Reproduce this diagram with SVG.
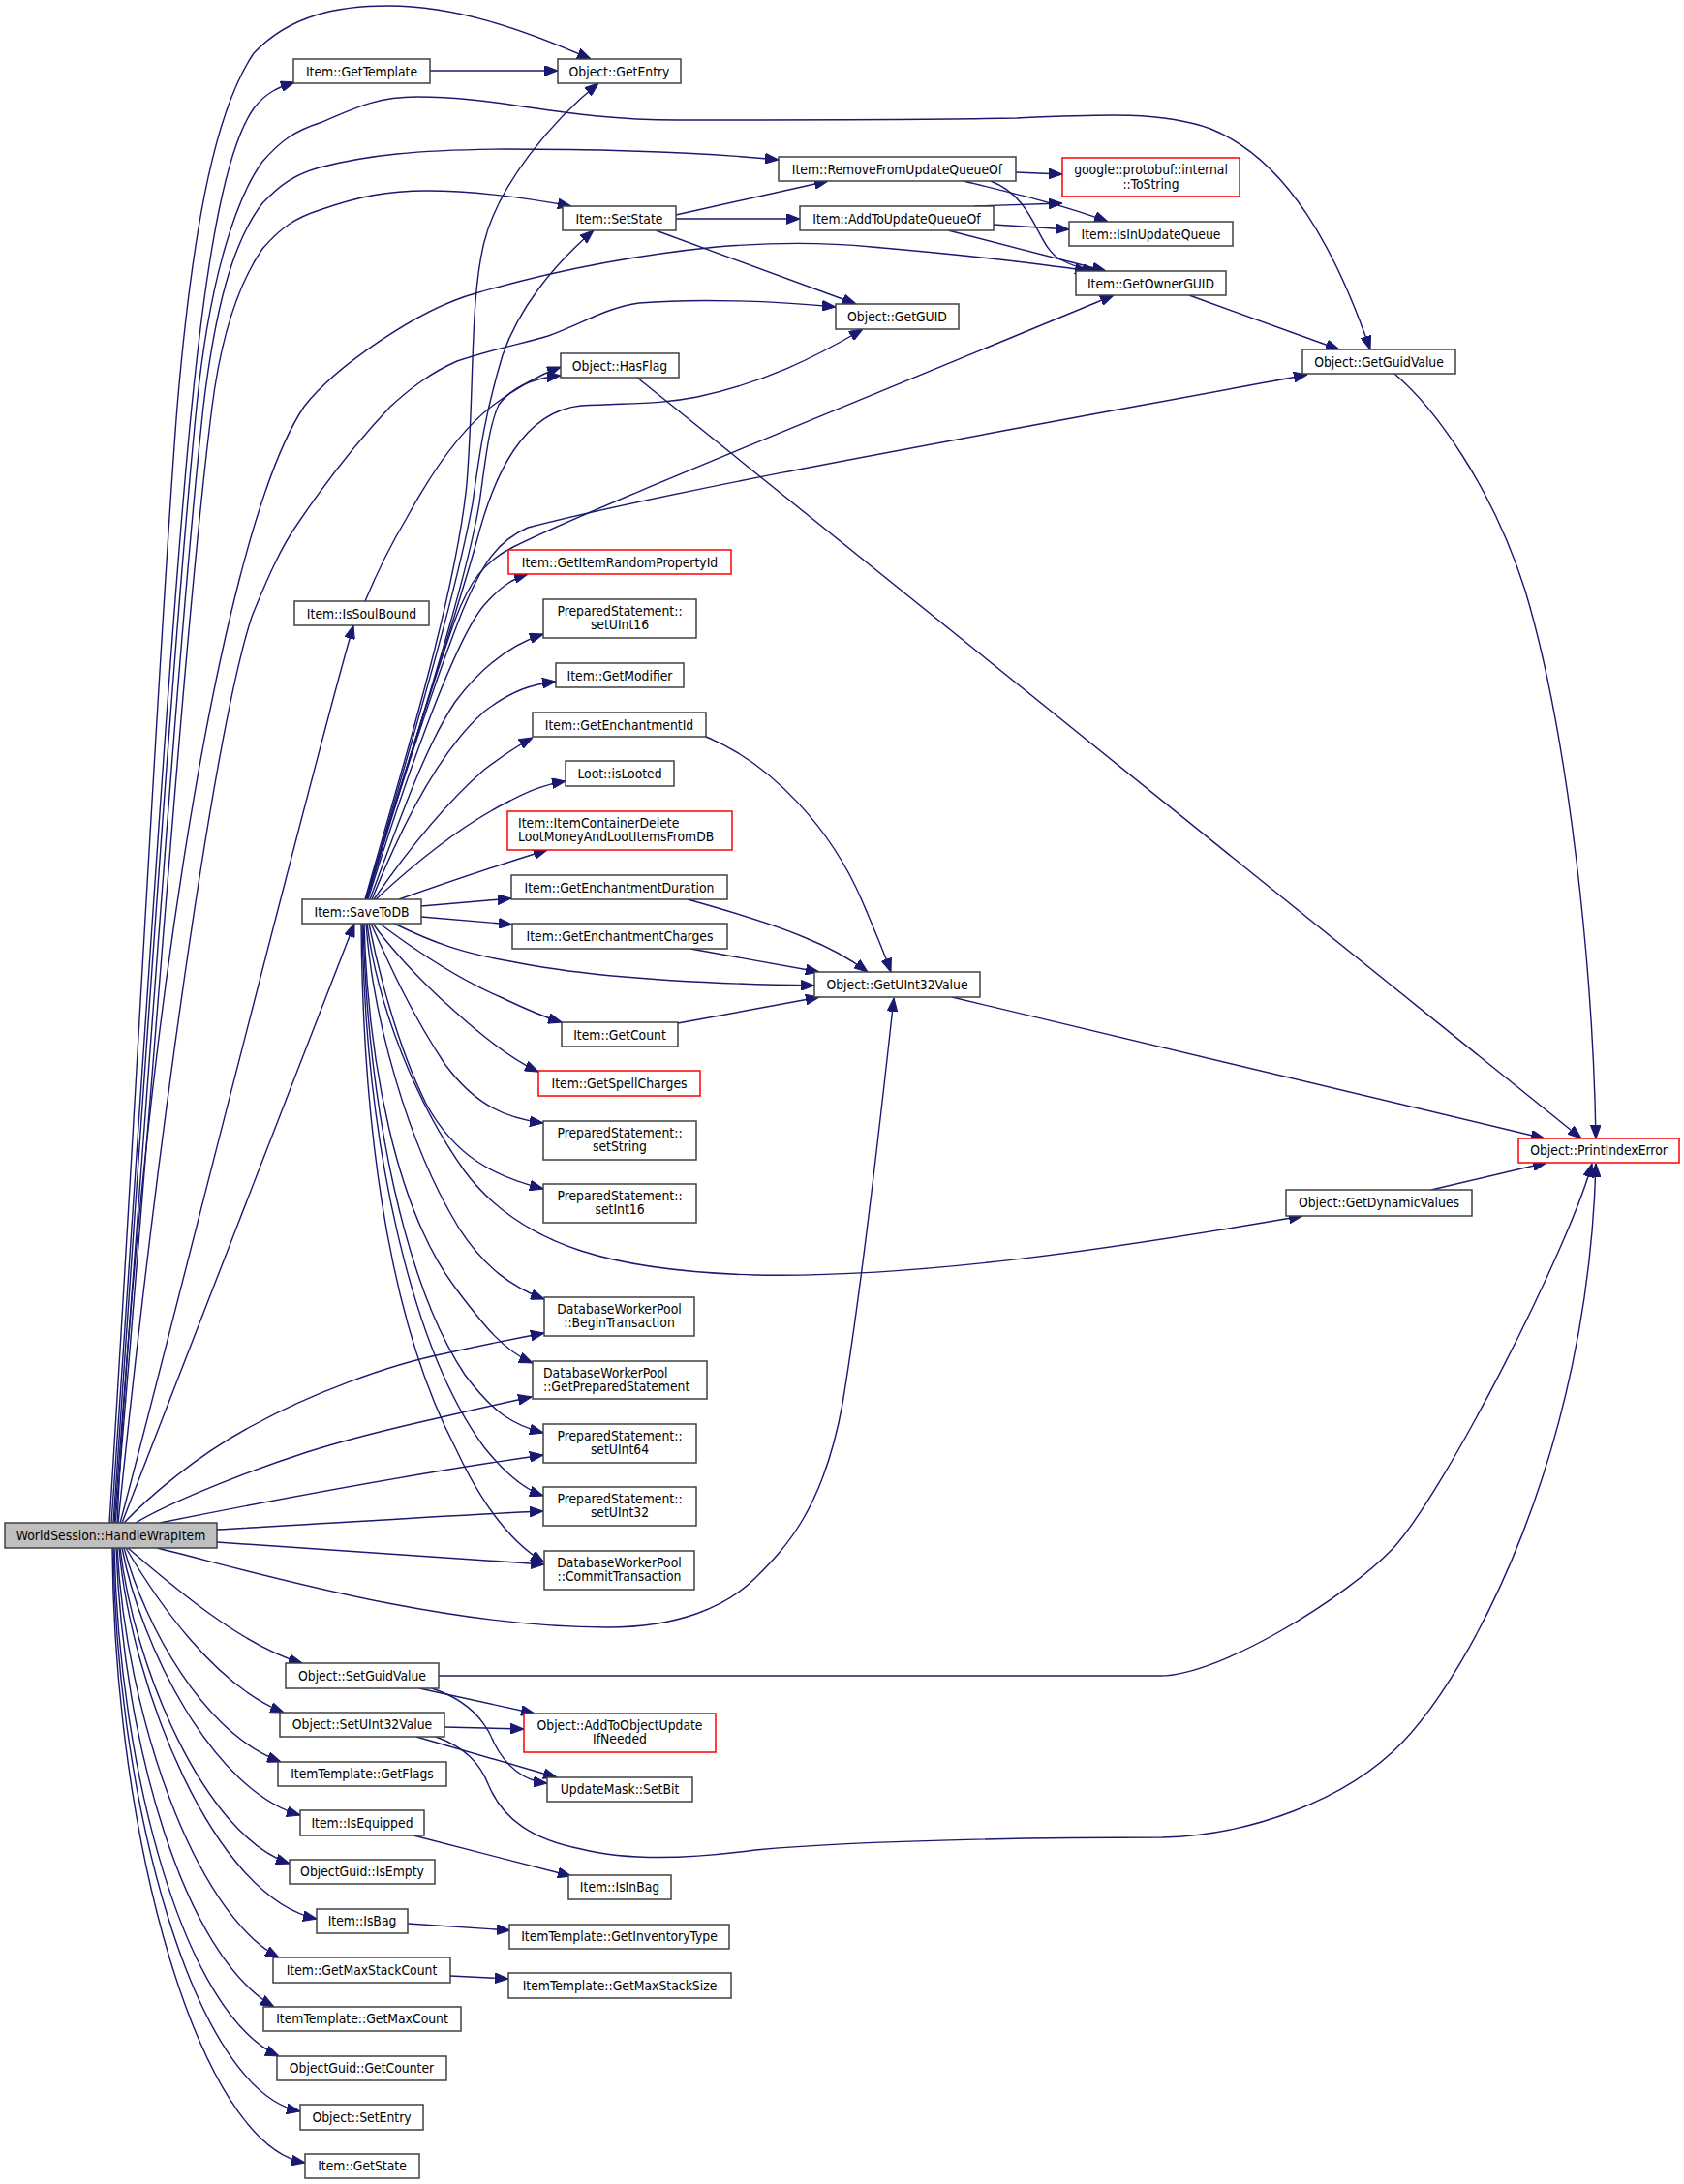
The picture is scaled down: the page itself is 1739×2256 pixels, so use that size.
<svg xmlns="http://www.w3.org/2000/svg" width="1739" height="2256" viewBox="0 0 1739 2256">
<style>
.n rect{fill:#fff;stroke:#404040;stroke-width:1.5}
.n.r rect{stroke:#ff0000}
.n.root rect{fill:#bfbfbf}
text{font-family:"DejaVu Sans Condensed","DejaVu Sans",sans-serif;font-stretch:condensed;font-size:13.8px;fill:#000;text-anchor:middle}
text.l{text-anchor:start}
#edges path{fill:none;stroke:#191970;stroke-width:1.4;marker-end:url(#a)}
</style>
<defs>
<marker id="a" markerUnits="userSpaceOnUse" markerWidth="14" markerHeight="11" viewBox="0 0 13 10" refX="13" refY="5" orient="auto"><path d="M0,0L13,5L0,10Z" fill="#191970" stroke="#191970" stroke-width="1"/></marker>
</defs>
<rect width="1739" height="2256" fill="#fff"/>
<g id="edges">
<path d="M113,1573 C140,1150 165,650 183,420 C200,220 225,110 262,55 C300,15 350,6 401,6 C470,6 540,30 610,61"/>
<path d="M115,1573 C145,1150 175,650 198,420 C215,250 235,150 262,112 C275,95 288,90 304,85"/>
<path d="M117,1573 C150,1100 180,650 203,420 C215,300 240,210 271,167 C290,145 305,135 330,127 C360,115 385,100 430,100 C520,100 580,124 700,124 C850,124 950,124 1050,122 C1140,118 1200,115 1250,133 C1330,165 1380,260 1415,361"/>
<path d="M118,1573 C155,1100 185,650 210,420 C222,320 240,250 271,210 C290,190 305,180 330,173 C380,160 430,155 520,154 C620,154 720,157 804,165"/>
<path d="M119,1573 C160,1100 190,650 219,420 C228,350 245,295 271,257 C290,235 305,225 330,217 C370,203 400,197 441,197 C480,197 530,202 590,213"/>
<path d="M121,1573 C140,1150 220,560 314,420 C345,380 430,320 491,303 C560,283 640,265 740,255 C800,250 850,250 900,255 C980,262 1060,270 1124,280"/>
<path d="M122,1573 C160,1200 220,760 260,637 C275,600 290,565 308,540 C335,500 370,455 403,420 C425,400 445,385 472,373 C510,360 540,355 566,347 C600,335 625,318 660,313 C720,308 800,311 863,317"/>
<path d="M124,1573 C150,1480 320,800 365,646"/>
<path d="M126,1573 L366,954"/>
<path d="M128,1573 C150,1550 200,1505 260,1473 C320,1440 400,1410 460,1398 C500,1389 530,1383 562,1377"/>
<path d="M140,1573 C170,1555 240,1525 317,1500 C370,1483 420,1472 460,1463 C490,1456 520,1449 549,1443"/>
<path d="M165,1573 C250,1556 420,1523 561,1503"/>
<path d="M224,1580 C350,1573 470,1565 561,1561"/>
<path d="M224,1593 C350,1601 460,1610 562,1616"/>
<path d="M162,1599 C250,1620 450,1681 627,1681 C700,1681 750,1660 780,1630 C810,1600 850,1560 870,1450 C890,1330 910,1150 923,1031"/>
<path d="M132,1599 C180,1640 250,1700 312,1718"/>
<path d="M130,1599 C160,1650 220,1740 293,1769"/>
<path d="M128,1599 C150,1680 210,1790 290,1820"/>
<path d="M126,1599 C145,1700 220,1850 310,1875"/>
<path d="M124,1599 C138,1720 210,1895 299,1925"/>
<path d="M123,1599 C135,1740 220,1960 327,1982"/>
<path d="M121,1599 C130,1770 200,1975 288,2022"/>
<path d="M120,1599 C127,1800 190,2020 283,2073"/>
<path d="M118,1599 C123,1830 190,2080 288,2124"/>
<path d="M117,1599 C120,1860 200,2160 310,2181"/>
<path d="M116,1599 C118,1900 205,2215 315,2234"/>
<path d="M444,73 L576,73"/>
<path d="M377,929 C410,810 470,620 482,500 C490,400 485,310 500,250 C515,190 570,125 618,86"/>
<path d="M378,929 C415,800 470,620 488,520 C495,470 500,430 519,367 C535,320 570,275 613,238"/>
<path d="M379,929 C420,790 480,610 495,520 C502,470 505,440 515,418 C530,398 555,390 579,388"/>
<path d="M377,621 C390,590 405,560 420,535 C450,480 480,440 510,418 C530,403 550,390 579,379"/>
<path d="M378,929 C410,820 470,640 492,560 C510,490 540,425 600,419 C650,416 680,418 720,410 C790,395 840,370 891,340"/>
<path d="M378,929 C405,840 445,710 470,640 C485,600 500,580 530,565 C600,530 800,450 1150,305"/>
<path d="M378,929 C408,830 450,700 478,630 C495,590 510,560 545,545 C700,505 1000,452 1350,387"/>
<path d="M380,929 C420,800 470,660 500,625 C515,608 528,598 545,593"/>
<path d="M382,929 C415,840 440,770 470,725 C500,685 530,665 561,655"/>
<path d="M384,929 C420,840 460,770 500,735 C530,712 550,707 574,704"/>
<path d="M386,929 C420,880 460,830 500,795 C520,780 535,770 550,762"/>
<path d="M388,929 C430,890 480,850 527,827 C550,815 565,810 584,807"/>
<path d="M412,929 C460,912 510,895 565,878"/>
<path d="M435,936 L528,928"/>
<path d="M435,947 L529,955"/>
<path d="M407,954 C450,975 480,985 527,993 C600,1008 700,1016 841,1018"/>
<path d="M392,954 C420,975 470,1010 517,1030 C540,1041 560,1050 580,1056"/>
<path d="M385,954 C400,975 430,1010 470,1045 C500,1072 530,1095 556,1107"/>
<path d="M383,954 C395,980 420,1040 460,1100 C490,1140 520,1155 561,1160"/>
<path d="M381,954 C390,1000 410,1080 440,1140 C470,1195 510,1215 561,1228"/>
<path d="M379,954 C390,1040 430,1140 480,1210 C540,1290 640,1313 780,1317 C950,1320 1150,1290 1345,1256"/>
<path d="M378,954 C385,1050 420,1180 473,1267 C500,1310 530,1330 562,1342"/>
<path d="M376,954 C380,1100 410,1250 470,1330 C500,1370 520,1395 550,1408"/>
<path d="M375,954 C380,1150 420,1330 480,1420 C510,1460 530,1472 561,1480"/>
<path d="M374,954 C378,1200 430,1400 500,1495 C520,1520 540,1538 561,1545"/>
<path d="M373,954 C375,1200 410,1380 470,1495 C500,1560 530,1595 562,1614"/>
<path d="M1049,178 L1097,180"/>
<path d="M995,187 C1040,198 1100,212 1144,229"/>
<path d="M1023,187 C1070,205 1070,255 1095,268 C1108,275 1118,278 1132,280"/>
<path d="M698,222 L855,187"/>
<path d="M698,226 L826,226"/>
<path d="M677,238 L884,314"/>
<path d="M1006,213 L1097,210"/>
<path d="M1026,232 L1104,237"/>
<path d="M979,238 L1142,280"/>
<path d="M1228,305 L1383,361"/>
<path d="M1440,386 C1480,420 1540,500 1575,610 C1620,760 1645,1000 1648,1176"/>
<path d="M658,390 L1633,1176"/>
<path d="M729,761 C800,790 860,860 890,930 C905,965 915,990 920,1004"/>
<path d="M710,929 C760,943 800,955 830,968 C860,980 880,992 896,1004"/>
<path d="M713,980 L846,1004"/>
<path d="M700,1057 L846,1030"/>
<path d="M983,1030 L1595,1176"/>
<path d="M1478,1229 L1597,1201"/>
<path d="M453,1731 L1198,1731 C1260,1731 1390,1650 1438,1600 C1490,1545 1620,1290 1644,1202"/>
<path d="M450,1794 C480,1805 495,1820 505,1845 C520,1880 550,1900 600,1910 C640,1920 700,1922 780,1911 C900,1900 1100,1898 1200,1898 C1290,1896 1390,1860 1448,1800 C1520,1725 1640,1500 1648,1202"/>
<path d="M433,1744 L552,1770"/>
<path d="M446,1744 C480,1755 500,1775 510,1800 C525,1830 545,1840 565,1842"/>
<path d="M459,1784 L541,1786"/>
<path d="M430,1794 L575,1836"/>
<path d="M427,1896 L590,1938"/>
<path d="M421,1987 L527,1994"/>
<path d="M465,2041 L525,2044"/>
</g>
<g id="n-root" class="n root"><rect x="5" y="1573" width="219" height="26"/><text x="114.5" y="1590.5">WorldSession::HandleWrapItem</text></g>
<g id="n-gettemplate" class="n"><rect x="303" y="61" width="141" height="25"/><text x="373.5" y="78.5">Item::GetTemplate</text></g>
<g id="n-getentry" class="n"><rect x="576" y="61" width="127" height="25"/><text x="639.5" y="78.5">Object::GetEntry</text></g>
<g id="n-removefrom" class="n"><rect x="804" y="162" width="245" height="25"/><text x="926.5" y="179.5">Item::RemoveFromUpdateQueueOf</text></g>
<g id="n-tostring" class="n r"><rect x="1097" y="163" width="183" height="40"/><text x="1188.5" y="179.5">google::protobuf::internal</text><text x="1188.5" y="194.5">::ToString</text></g>
<g id="n-setstate" class="n"><rect x="581" y="213" width="117" height="25"/><text x="639.5" y="230.5">Item::SetState</text></g>
<g id="n-addto" class="n"><rect x="826" y="213" width="200" height="25"/><text x="926" y="230.5">Item::AddToUpdateQueueOf</text></g>
<g id="n-isinupdate" class="n"><rect x="1104" y="229" width="169" height="25"/><text x="1188.5" y="246.5">Item::IsInUpdateQueue</text></g>
<g id="n-getownerguid" class="n"><rect x="1111" y="280" width="155" height="25"/><text x="1188.5" y="297.5">Item::GetOwnerGUID</text></g>
<g id="n-getguid" class="n"><rect x="863" y="314" width="127" height="26"/><text x="926.5" y="331.5">Object::GetGUID</text></g>
<g id="n-getguidvalue" class="n"><rect x="1345" y="361" width="158" height="25"/><text x="1424" y="378.5">Object::GetGuidValue</text></g>
<g id="n-hasflag" class="n"><rect x="579" y="365" width="122" height="25"/><text x="640" y="382.5">Object::HasFlag</text></g>
<g id="n-issoulbound" class="n"><rect x="304" y="621" width="139" height="25"/><text x="373.5" y="638.5">Item::IsSoulBound</text></g>
<g id="n-randomprop" class="n r"><rect x="525" y="568" width="230" height="25"/><text x="640" y="585.5">Item::GetItemRandomPropertyId</text></g>
<g id="n-setuint16" class="n"><rect x="561" y="619" width="158" height="40"/><text x="640" y="635.5">PreparedStatement::</text><text x="640" y="650">setUInt16</text></g>
<g id="n-getmodifier" class="n"><rect x="574" y="685" width="132" height="25"/><text x="640" y="702.5">Item::GetModifier</text></g>
<g id="n-enchid" class="n"><rect x="550" y="736" width="179" height="25"/><text x="639.5" y="753.5">Item::GetEnchantmentId</text></g>
<g id="n-islooted" class="n"><rect x="584" y="786" width="112" height="26"/><text x="640" y="803.5">Loot::isLooted</text></g>
<g id="n-containerdelete" class="n r"><rect x="524" y="838" width="232" height="40"/><text class="l" x="535" y="854.5">Item::ItemContainerDelete</text><text class="l" x="535" y="869">LootMoneyAndLootItemsFromDB</text></g>
<g id="n-enchduration" class="n"><rect x="528" y="904" width="223" height="25"/><text x="639.5" y="921.5">Item::GetEnchantmentDuration</text></g>
<g id="n-enchcharges" class="n"><rect x="529" y="954" width="222" height="26"/><text x="640" y="971.5">Item::GetEnchantmentCharges</text></g>
<g id="n-savetodb" class="n"><rect x="312" y="929" width="123" height="25"/><text x="373.5" y="946.5">Item::SaveToDB</text></g>
<g id="n-getuint32value" class="n"><rect x="841" y="1004" width="171" height="26"/><text x="926.5" y="1021.5">Object::GetUInt32Value</text></g>
<g id="n-getcount" class="n"><rect x="580" y="1056" width="120" height="25"/><text x="640" y="1073.5">Item::GetCount</text></g>
<g id="n-spellcharges" class="n r"><rect x="556" y="1106" width="167" height="26"/><text x="639.5" y="1123.5">Item::GetSpellCharges</text></g>
<g id="n-setstring" class="n"><rect x="561" y="1158" width="158" height="40"/><text x="640" y="1174.5">PreparedStatement::</text><text x="640" y="1189">setString</text></g>
<g id="n-setint16" class="n"><rect x="561" y="1223" width="158" height="40"/><text x="640" y="1239.5">PreparedStatement::</text><text x="640" y="1254">setInt16</text></g>
<g id="n-dynamicvalues" class="n"><rect x="1328" y="1229" width="192" height="27"/><text x="1424" y="1247">Object::GetDynamicValues</text></g>
<g id="n-printindexerror" class="n r"><rect x="1568" y="1176" width="166" height="25"/><text x="1651" y="1193">Object::PrintIndexError</text></g>
<g id="n-begintx" class="n"><rect x="562" y="1340" width="155" height="40"/><text x="639.5" y="1356.5">DatabaseWorkerPool</text><text x="639.5" y="1371">::BeginTransaction</text></g>
<g id="n-getprepared" class="n"><rect x="550" y="1406" width="180" height="39"/><text class="l" x="561" y="1422.5">DatabaseWorkerPool</text><text class="l" x="561" y="1437">::GetPreparedStatement</text></g>
<g id="n-setuint64" class="n"><rect x="561" y="1471" width="158" height="40"/><text x="640" y="1487.5">PreparedStatement::</text><text x="640" y="1502">setUInt64</text></g>
<g id="n-setuint32" class="n"><rect x="561" y="1536" width="158" height="40"/><text x="640" y="1552.5">PreparedStatement::</text><text x="640" y="1567">setUInt32</text></g>
<g id="n-committx" class="n"><rect x="562" y="1602" width="155" height="40"/><text x="639.5" y="1618.5">DatabaseWorkerPool</text><text x="639.5" y="1633">::CommitTransaction</text></g>
<g id="n-setguidvalue" class="n"><rect x="295" y="1718" width="158" height="26"/><text x="374" y="1735.5">Object::SetGuidValue</text></g>
<g id="n-setuint32value" class="n"><rect x="289" y="1769" width="170" height="25"/><text x="374" y="1786">Object::SetUInt32Value</text></g>
<g id="n-addtoobjupdate" class="n r"><rect x="541" y="1770" width="198" height="40"/><text x="640" y="1786.5">Object::AddToObjectUpdate</text><text x="640" y="1801">IfNeeded</text></g>
<g id="n-setbit" class="n"><rect x="565" y="1836" width="150" height="25"/><text x="640" y="1853">UpdateMask::SetBit</text></g>
<g id="n-getflags" class="n"><rect x="287" y="1820" width="174" height="25"/><text x="374" y="1837">ItemTemplate::GetFlags</text></g>
<g id="n-isequipped" class="n"><rect x="310" y="1870" width="128" height="26"/><text x="374" y="1887.5">Item::IsEquipped</text></g>
<g id="n-isempty" class="n"><rect x="299" y="1921" width="150" height="25"/><text x="374" y="1938">ObjectGuid::IsEmpty</text></g>
<g id="n-isinbag" class="n"><rect x="587" y="1937" width="106" height="25"/><text x="640" y="1954">Item::IsInBag</text></g>
<g id="n-isbag" class="n"><rect x="327" y="1972" width="94" height="25"/><text x="374" y="1989">Item::IsBag</text></g>
<g id="n-invtype" class="n"><rect x="526" y="1988" width="227" height="25"/><text x="639.5" y="2005">ItemTemplate::GetInventoryType</text></g>
<g id="n-maxstackcount" class="n"><rect x="282" y="2022" width="183" height="26"/><text x="373.5" y="2039.5">Item::GetMaxStackCount</text></g>
<g id="n-maxstacksize" class="n"><rect x="525" y="2038" width="230" height="26"/><text x="640" y="2055.5">ItemTemplate::GetMaxStackSize</text></g>
<g id="n-maxcount" class="n"><rect x="272" y="2073" width="204" height="25"/><text x="374" y="2090">ItemTemplate::GetMaxCount</text></g>
<g id="n-getcounter" class="n"><rect x="286" y="2124" width="175" height="25"/><text x="373.5" y="2141">ObjectGuid::GetCounter</text></g>
<g id="n-setentry" class="n"><rect x="310" y="2174" width="127" height="26"/><text x="373.5" y="2191.5">Object::SetEntry</text></g>
<g id="n-getstate" class="n"><rect x="315" y="2225" width="118" height="25"/><text x="374" y="2242">Item::GetState</text></g>
</svg>
